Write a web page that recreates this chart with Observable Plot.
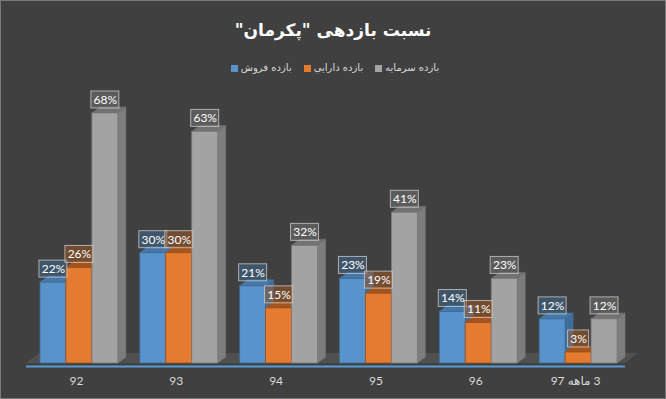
<!DOCTYPE html>
<html>
<head>
<meta charset="utf-8">
<script src="https://cdn.jsdelivr.net/npm/d3@7"></script>
<script src="https://cdn.jsdelivr.net/npm/@observablehq/plot@0.6"></script>
<style>
  html, body { margin: 0; padding: 0; background: #404040; }
  #wrap { position: relative; width: 666px; height: 399px; background: #404040; overflow: hidden; }
  #title { position: absolute; top: 16px; left: 0; width: 666px; text-align: center;
           font: bold 17px "DejaVu Sans", sans-serif; color: #ffffff; line-height: 28px; }
  #legend { position: absolute; top: 61px; left: 2px; width: 666px; display: flex; justify-content: center;
            gap: 12px; direction: ltr; font: 10px "DejaVu Sans", sans-serif; color: #d9d9d9; line-height: 14px; }
  #legend .item { display: flex; align-items: center; gap: 3px; }
  #legend .sw { width: 7px; height: 7px; display: inline-block; }
  #chart { position: absolute; left: 0; top: 0; }
  #frame { position: absolute; left: 0; top: 0; width: 666px; height: 399px; box-sizing: border-box;
           border: 1px solid #7a7a7a; pointer-events: none; }
</style>
</head>
<body>
<div id="wrap">
  <div id="chart"></div>
  <div id="title" dir="rtl"></div>
  <div id="legend"></div>
  <div id="frame"></div>
</div>
<script>
// ---- data ----
const titleText = 'نسبت بازدهی "پکرمان"';
const categories = ["92", "93", "94", "95", "96", "3 ماهه 97"];
const seriesNames = ["بازده فروش", "بازده دارايي", "بازده سرمایه"];
const salesReturn = [22, 30, 21, 23, 14, 12];
const assetReturn = [26, 30, 15, 19, 11, 3];
const equityReturn = [68, 63, 32, 41, 23, 12];

// ---- styles ----
const colors = [
  {front: "#5893cc", side: "#3f6e9c", top: "#4677a8", edge: "#3d6a95"},
  {front: "#e57b30", side: "#b05b1e", top: "#a4541c", edge: "#9a4f1a"},
  {front: "#a3a3a3", side: "#7d7d7d", top: "#727272", edge: "#7a7a7a"}
];
const seriesValues = [salesReturn, assetReturn, equityReturn];

const W = 666, H = 399, ml = 26, mr = 41, mt = 113, mb = 36;
const yMax = d3.max(equityReturn);
const pxX = (W - ml - mr) / categories.length;
const pxY = (H - mt - mb) / yMax;
const d = 8 / pxX;      // 3D depth (x units)
const r = 6 / pxY;      // 3D rise (y units)
const barStart = 0.14, barW = 0.26;

// ---- derived tables ----
const bars = [];
categories.forEach((c, i) => {
  seriesValues.forEach((vals, j) => {
    const x1 = i + barStart + barW * j;
    bars.push({id: i + "-" + j, j, x1, x2: x1 + barW, v: vals[i], label: vals[i] + "%"});
  });
});
const sideRows = bars.flatMap(b => [
  {id: b.id, j: b.j, x: b.x2, y1: 0, y2: b.v},
  {id: b.id, j: b.j, x: b.x2 + d, y1: r, y2: b.v + r}
]);
const topRows = bars.flatMap(b => [
  {id: b.id, j: b.j, x: b.x1, y1: b.v, y2: b.v},
  {id: b.id, j: b.j, x: b.x1 + d, y1: b.v, y2: b.v + r},
  {id: b.id, j: b.j, x: b.x2, y1: b.v, y2: b.v + r},
  {id: b.id, j: b.j, x: b.x2 + d, y1: b.v + r, y2: b.v + r}
]);
const n = categories.length;
const D = 13 / pxX, R = 10 / pxY;
const floorRows = [
  {x: 0, y1: 0, y2: 0}, {x: D, y1: 0, y2: R}, {x: n, y1: 0, y2: R}, {x: n + D, y1: R, y2: R}
];

const marks = [
  Plot.area(floorRows, {x1: "x", y1: "y1", y2: "y2", fill: "#505050"}),
  Plot.ruleY([0], {stroke: "#5b9bd5", strokeWidth: 2, dy: 3})
];
for (let j = 0; j < 3; j++) {
  const c = colors[j];
  marks.push(
    Plot.area(sideRows.filter(s => s.j === j), {x1: "x", y1: "y1", y2: "y2", z: "id", fill: c.side, stroke: c.side, strokeWidth: 0.5}),
    Plot.area(topRows.filter(s => s.j === j), {x1: "x", y1: "y1", y2: "y2", z: "id", fill: c.top, stroke: c.top, strokeWidth: 0.5}),
    Plot.rect(bars.filter(b => b.j === j), {x1: "x1", x2: "x2", y1: 0, y2: "v", fill: c.front, stroke: c.edge, strokeWidth: 0.8})
  );
}
// label boxes
const boxH = 17, gap = 5;
for (let j = 0; j < 3; j++) {
  const c = colors[j];
  marks.push(
    Plot.rect(bars.filter(b => b.j === j), {
      x1: b => (b.x1 + b.x2) / 2 - (7 * b.label.length + 7) / 2 / pxX,
      x2: b => (b.x1 + b.x2) / 2 + (7 * b.label.length + 7) / 2 / pxX,
      y1: b => b.v + gap / pxY,
      y2: b => b.v + (gap + boxH) / pxY,
      fill: c.side, fillOpacity: 0.45, stroke: "#d0d0d0", strokeOpacity: 0.75, strokeWidth: 1
    })
  );
}
marks.push(
  Plot.text(bars, {
    x: b => (b.x1 + b.x2) / 2, y: "v", text: "label",
    dy: -(gap + boxH / 2), fill: "#ffffff", fontSize: 12, fontFamily: "Lato, sans-serif"
  }),
  Plot.axisX({
    ticks: categories.map((c, i) => i + 0.5),
    tickFormat: t => "\u202B" + categories[Math.floor(t)] + "\u202C",
    tickSize: 0, tickPadding: 13, fontSize: 12, fill: "#d9d9d9", label: null
  })
);

const chart = Plot.plot({
  width: W, height: H,
  marginLeft: ml, marginRight: mr, marginTop: mt, marginBottom: mb,
  x: {type: "linear", domain: [0, n], axis: null},
  y: {domain: [0, yMax], axis: null},
  style: {background: "transparent", color: "#d9d9d9", fontFamily: "Lato, 'DejaVu Sans', sans-serif", fontSize: "12px", overflow: "visible"},
  marks
});
document.getElementById("chart").appendChild(chart);

// title and legend
document.getElementById("title").textContent = titleText;
const legend = document.getElementById("legend");
seriesNames.forEach((name, j) => {
  const item = document.createElement("span");
  item.className = "item";
  const sw = document.createElement("span");
  sw.className = "sw";
  sw.style.background = colors[j].front;
  const t = document.createElement("span");
  t.dir = "rtl";
  t.textContent = name;
  item.appendChild(sw);
  item.appendChild(t);
  legend.appendChild(item);
});
</script>
</body>
</html>
